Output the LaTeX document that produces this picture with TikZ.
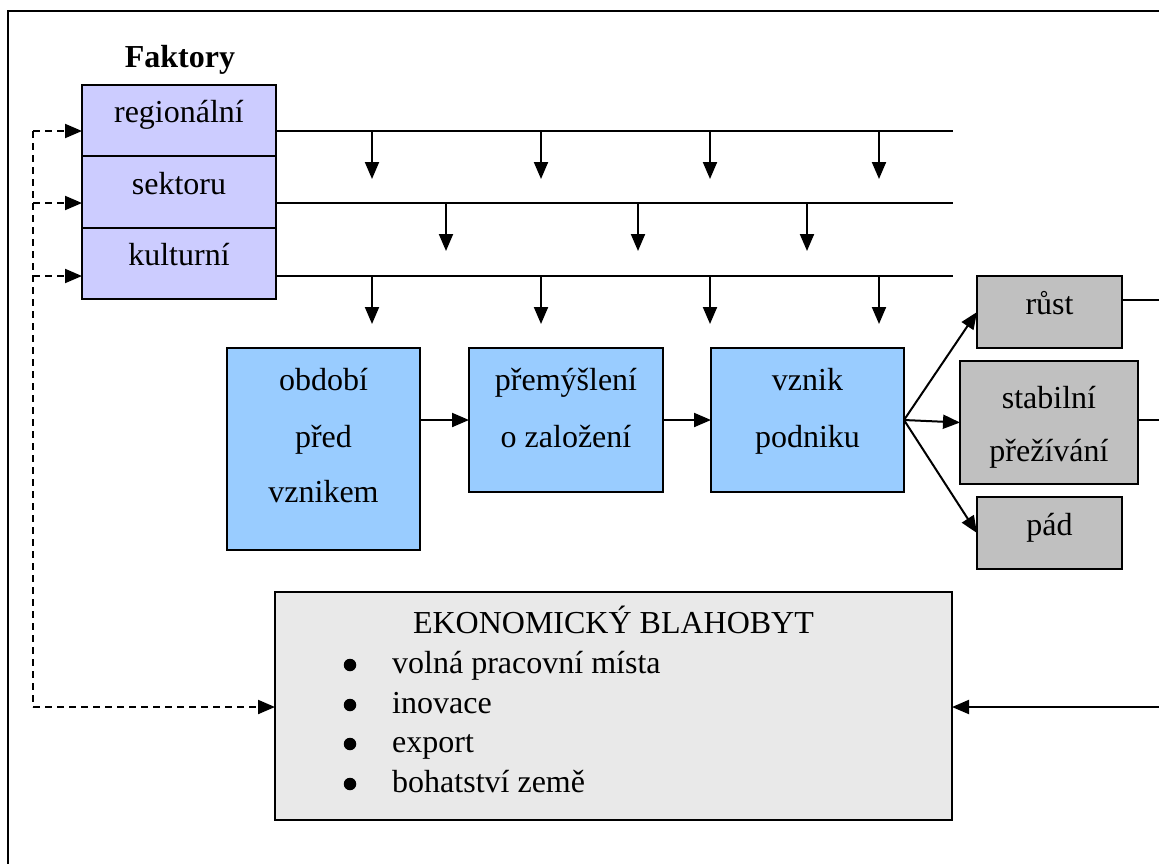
\documentclass[tikz,border=0pt]{standalone}
\usepackage{fontspec}
\setmainfont{Liberation Serif}
\usetikzlibrary{arrows.meta}
\definecolor{factorfill}{RGB}{204,204,255}
\definecolor{stagefill}{RGB}{153,204,255}
\definecolor{outcomefill}{RGB}{192,192,192}
\definecolor{welfarefill}{RGB}{233,233,233}

\begin{document}
\begin{tikzpicture}[x=1pt,y=-1pt,
  bigfont/.style={font=\fontsize{32}{38}\selectfont},
  box/.style={draw=black,line width=2pt,inner sep=0pt,outer sep=0pt,anchor=north west,
    bigfont,text height=0.7em,text depth=0.22em},
  factor/.style={box,fill=factorfill,minimum width=194pt},
  stage/.style={box,fill=stagefill},
  outcome/.style={box,fill=outcomefill},
  welfare/.style={box,fill=welfarefill},
  txt/.style={bigfont,inner sep=0pt,anchor=base},
  bulletdot/.style={circle,fill=black,inner sep=0pt,minimum size=12.5pt},
  conn/.style={line width=2pt},
  tip/.style={-{Triangle[length=17pt,width=14pt]}},
  arr/.style={conn,tip},
  dsh/.style={line width=2pt,dash pattern=on 7pt off 5pt},
  dsharr/.style={dsh,tip},
]
\useasboundingbox (0,0) rectangle (1159,863);
\clip (0,0) rectangle (1159,863);
\fill[white] (0,0) rectangle (1159,863);

% outer frame (top and left edges)
\draw[line width=2.5pt] (8,880) -- (8,11) -- (1175,11);

% factors
\node[txt,font=\fontsize{32}{38}\selectfont\bfseries] (faktory) at (180,67) {Faktory};
\node[factor,minimum height=71pt] (reg) at (82,85) {regionální};
\node[factor,minimum height=72pt] (sek) at (82,156) {sektoru};
\node[factor,minimum height=71pt] (kul) at (82,228) {kulturní};

% stages of a firm
\node[stage,minimum width=193pt,minimum height=202pt] (pre) at (227,348) {};
\node[txt] (pre1) at (323.5,390) {období};
\node[txt] (pre2) at (323.5,447) {před};
\node[txt] (pre3) at (323.5,502) {vznikem};

\node[stage,minimum width=194pt,minimum height=144pt] (prem) at (469,348) {};
\node[txt] (prem1) at (566,390) {přemýšlení};
\node[txt] (prem2) at (566,447) {o založení};

\node[stage,minimum width=193pt,minimum height=144pt] (vzn) at (711,348) {};
\node[txt] (vzn1) at (807.5,390) {vznik};
\node[txt] (vzn2) at (807.5,447) {podniku};

% outcomes
\node[outcome,minimum width=145pt,minimum height=72pt] (rust) at (977,276) {růst};
\node[outcome,minimum width=178pt,minimum height=123pt] (stab) at (960,361) {};
\node[txt] (stab1) at (1049,408) {stabilní};
\node[txt] (stab2) at (1049,461) {přežívání};
\node[outcome,minimum width=145pt,minimum height=72pt] (pad) at (977,497) {pád};

% economic welfare
\node[welfare,minimum width=677pt,minimum height=228pt] (econ) at (275,592) {};
\node[txt] (econT) at (613.5,633) {EKONOMICKÝ BLAHOBYT};
\node[bulletdot] (bul1) at (350,665) {};
\node[bulletdot] (bul2) at (350,705) {};
\node[bulletdot] (bul3) at (350,744) {};
\node[bulletdot] (bul4) at (350,784) {};
\node[txt,anchor=base west] (it1) at (392,673) {volná pracovní místa};
\node[txt,anchor=base west] (it2) at (392,713) {inovace};
\node[txt,anchor=base west] (it3) at (392,752) {export};
\node[txt,anchor=base west] (it4) at (392,792) {bohatství země};

% factor lines with influence arrows
\coordinate (e1) at (953,131);
\coordinate (e2) at (953,203);
\coordinate (e3) at (953,276);
\draw[conn] (reg.east |- e1) -- (e1);
\draw[conn] (sek.east |- e2) -- (e2);
\draw[conn] (kul.east |- e3) -- (e3);
\foreach \x in {372,541,710,879} {
  \draw[arr] (\x,0 |- e1) -- ++(0,48);
  \draw[arr] (\x,0 |- e3) -- ++(0,48);
}
\foreach \x in {446,638,807} {
  \draw[arr] (\x,0 |- e2) -- ++(0,48);
}

% flow between stages
\draw[arr] (pre.east |- prem.west) -- (prem.west);
\draw[arr] (prem.east) -- (vzn.west);
\draw[arr] (vzn.east) -- (rust.west);
\draw[arr] (vzn.east) -- (stab.west);
\draw[arr] (vzn.east) -- (pad.west);

% feedback from outcomes
\coordinate (o1) at (1175,300);
\coordinate (o2) at (1175,420);
\coordinate (o3) at (1175,707);
\draw[conn] (rust.east |- o1) -- (o1);
\draw[conn] (stab.east |- o2) -- (o2);
\draw[arr] (o3) -- (econ.east |- o3);

% dashed feedback to factors
\coordinate (dtop) at (33,131);
\coordinate (dbot) at (33,707);
\draw[dsh] (dtop) -- (dbot);
\draw[dsharr] (dtop) -- (reg.west |- dtop);
\draw[dsharr] (dtop |- e2) -- (sek.west |- e2);
\draw[dsharr] (dtop |- e3) -- (kul.west |- e3);
\draw[dsharr] (dbot) -- (econ.west |- dbot);
\end{tikzpicture}
\end{document}
